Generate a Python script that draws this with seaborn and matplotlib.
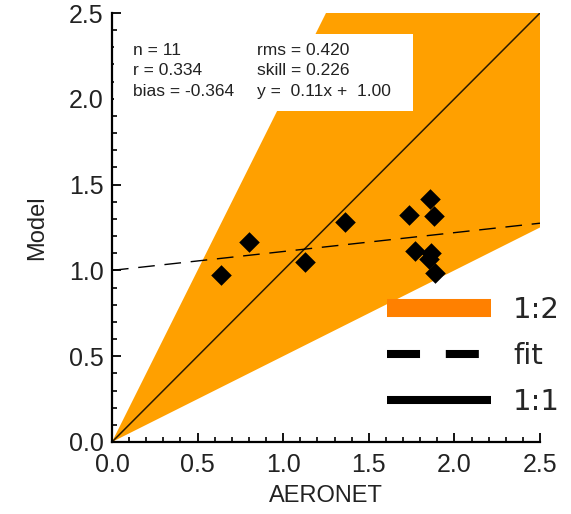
import numpy as np
import pandas as pd
import seaborn as sns
import matplotlib.pyplot as plt
from matplotlib.lines import Line2D
from matplotlib.patches import Rectangle
from matplotlib.ticker import MultipleLocator

# =========================
# data
# =========================
aeronet = [0.637, 0.798, 1.129, 1.363, 1.733, 1.768, 1.857, 1.883, 1.863, 1.853, 1.887]
model = [0.975, 1.167, 1.049, 1.282, 1.325, 1.115, 1.418, 1.319, 1.103, 1.068, 0.985]

fit_slope, fit_icpt = 0.11, 1.00
ref_x = np.array([0.0, 2.5])

stats_left = ["n = 11", "r = 0.334", "bias = -0.364"]
stats_right = ["rms = 0.420", "skill = 0.226", "y =  0.11x +  1.00"]
legend_labels = ["1:2", "fit", "1:1"]
ticks = [0.0, 0.5, 1.0, 1.5, 2.0, 2.5]

df = pd.DataFrame({"AERONET": aeronet, "Model": model})

ORANGE = "#ffa000"
ORANGE_LEG = "#ff8000"

sns.set_theme(style="ticks")
plt.rcParams["font.family"] = ["Liberation Sans", "DejaVu Sans"]

fig = plt.figure(figsize=(5.71, 5.14), dpi=100)
ax = fig.add_axes([0.1961, 0.1401, 0.7496, 0.8346])

# 1:2 envelope
ax.fill_between(ref_x, 0.5 * ref_x, 2.0 * ref_x, color=ORANGE, lw=0, zorder=1)

# 1:1 line and fit
ax.plot(ref_x, ref_x, color="#2a1a00", lw=1.1, zorder=3)
ax.plot(ref_x, fit_slope * ref_x + fit_icpt, color="black", lw=1.0,
        dashes=(12, 7), zorder=3)

sns.scatterplot(data=df, x="AERONET", y="Model", marker="D", s=110,
                color="black", edgecolor="black", linewidth=0, ax=ax, zorder=4)

ax.set_xlim(0, 2.5)
ax.set_ylim(0, 2.5)
ax.set_xticks(ticks)
ax.set_yticks(ticks)
ax.xaxis.set_minor_locator(MultipleLocator(0.1))
ax.yaxis.set_minor_locator(MultipleLocator(0.1))
ax.tick_params(which="major", direction="in", length=6.5, width=1.3,
               labelsize=18, color="black", labelcolor="#222222")
ax.tick_params(axis="x", which="major", pad=8)
ax.tick_params(axis="y", which="major", pad=6)
ax.tick_params(which="minor", direction="in", length=3.5, width=1.2, color="black")
for s in ["top", "right"]:
    ax.spines[s].set_visible(False)
for s in ["left", "bottom"]:
    ax.spines[s].set_linewidth(1.6)
    ax.spines[s].set_color("black")
    ax.spines[s].set_zorder(5)

ax.set_xlabel("AERONET", fontsize=17, color="#222222", labelpad=6)
ax.set_ylabel("Model", fontsize=17, color="#222222", labelpad=15)

# stats box
ax.add_patch(Rectangle((0.004, 0.772), 0.699, 0.179, transform=ax.transAxes,
                       facecolor="white", edgecolor="none", zorder=2))
rows_y = [0.912, 0.866, 0.817]
for yy, a, b in zip(rows_y, stats_left, stats_right):
    ax.text(0.049, yy, a, transform=ax.transAxes, fontsize=12.5,
            va="center", ha="left", color="#222222", zorder=6)
    ax.text(0.339, yy, b, transform=ax.transAxes, fontsize=12.5,
            va="center", ha="left", color="#222222", zorder=6)

# legend
handles = [
    Line2D([], [], color=ORANGE_LEG, lw=13, solid_capstyle="butt"),
    Line2D([], [], color="black", lw=5.8, dashes=(4.1, 3.2), dash_capstyle="butt"),
    Line2D([], [], color="black", lw=5.8, solid_capstyle="butt"),
]
fig.legend(handles, legend_labels, loc="center left",
           bbox_to_anchor=(387 / 571, 1 - 356 / 514), frameon=False,
           prop={"family": "DejaVu Sans", "size": 21},
           handlelength=3.57, handletextpad=0.76, labelspacing=0.62,
           borderpad=0, borderaxespad=0)

fig.savefig("out.png", dpi=100)
